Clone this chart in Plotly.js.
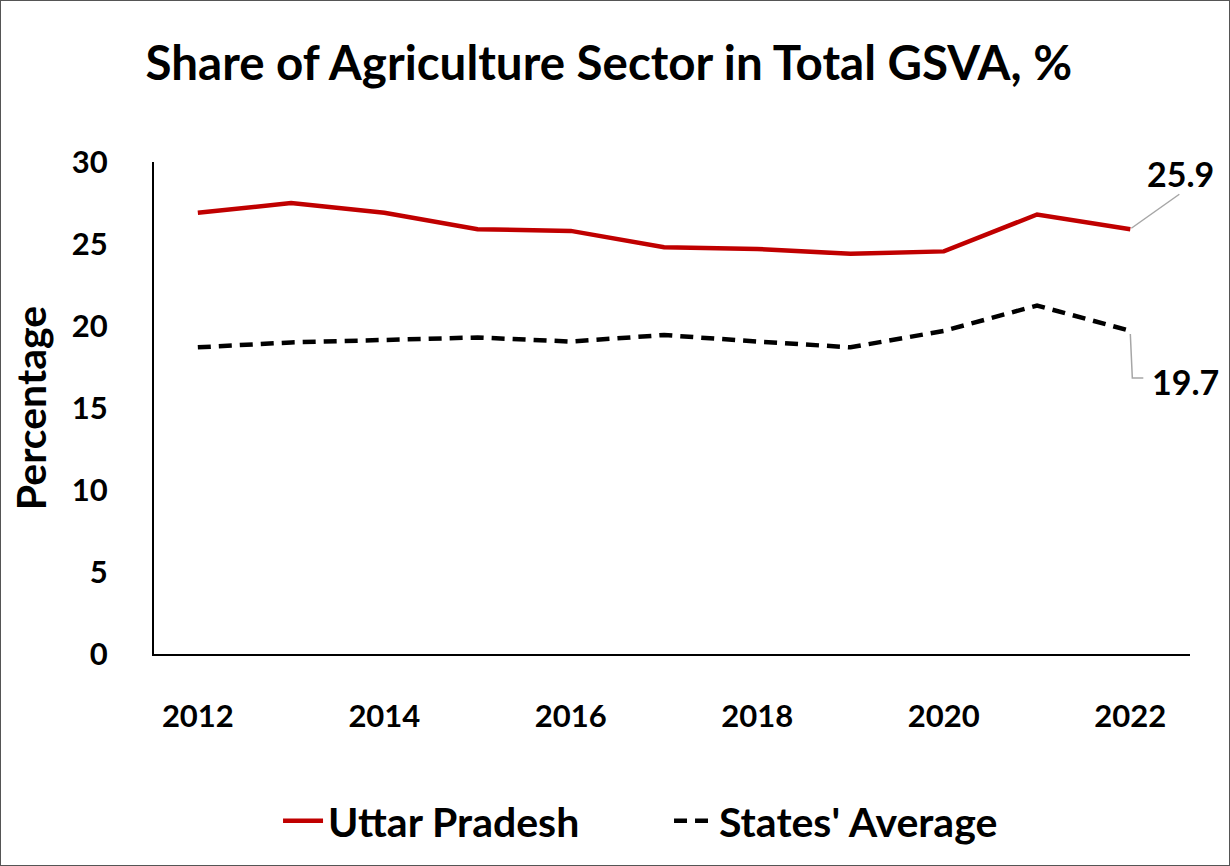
<!DOCTYPE html>
<html>
<head>
<meta charset="utf-8">
<script src="https://cdn.plot.ly/plotly-3.0.1.min.js"></script>
<style>
  html, body { margin: 0; padding: 0; background: #fff; }
  #chart { width: 1230px; height: 866px; box-sizing: border-box; border: 1px solid #555; }
</style>
</head>
<body>
<div id="chart"></div>
<script>
const years = [2012, 2013, 2014, 2015, 2016, 2017, 2018, 2019, 2020, 2021, 2022];
const uttarPradesh = [26.9, 27.5, 26.9, 25.9, 25.8, 24.8, 24.7, 24.4, 24.55, 26.8, 25.9];
const statesAverage = [18.7, 19.0, 19.15, 19.3, 19.05, 19.45, 19.05, 18.7, 19.7, 21.25, 19.7];
const xTicks = [2012, 2014, 2016, 2018, 2020, 2022];
const yTicks = [0, 5, 10, 15, 20, 25, 30];
const seriesNames = ["Uttar Pradesh", "States' Average"];

const FONT = "Lato, 'Open Sans', sans-serif";
const lastI = years.length - 1;

const traces = [
  {
    x: years, y: uttarPradesh, name: '<b>' + seriesNames[0] + '</b>', type: 'scatter', mode: 'lines',
    line: { color: '#C00000', width: 4.5 }
  },
  {
    x: years, y: statesAverage, name: '<b>' + seriesNames[1] + '</b>', type: 'scatter', mode: 'lines',
    line: { color: '#000000', width: 4.5, dash: '13px,8px' }
  }
];

const layout = {
  width: 1228, height: 864,
  margin: { l: 153, r: 39, t: 161, b: 211, pad: 0 },
  paper_bgcolor: '#fff', plot_bgcolor: '#fff',
  font: { family: FONT, color: '#000' },
  title: {
    text: '<b>Share of Agriculture Sector in Total GSVA, %</b>',
    font: { family: FONT, size: 47.5, color: '#000' },
    xref: 'container', x: 0.495, xanchor: 'center',
    yref: 'container', y: 1 - 62 / 864, yanchor: 'middle'
  },
  xaxis: {
    range: [2011.53, 2022.64],
    tickvals: xTicks, ticktext: xTicks.map(v => '<b>' + v + '</b>'),
    tickfont: { family: FONT, size: 31, color: '#000' },
    showline: true, linecolor: '#000', linewidth: 2,
    showgrid: false, zeroline: false,
    ticks: 'outside', ticklen: 34, tickcolor: 'rgba(0,0,0,0)'
  },
  yaxis: {
    range: [0, 30],
    tickvals: yTicks, ticktext: yTicks.map(v => '<b>' + v + '</b>'),
    tickfont: { family: FONT, size: 31, color: '#000' },
    showline: true, linecolor: '#000', linewidth: 2,
    showgrid: false, zeroline: false,
    ticks: 'outside', ticklen: 38, tickcolor: 'rgba(0,0,0,0)',
    title: { text: '<b>Percentage</b>', font: { family: FONT, size: 41, color: '#000' }, standoff: 12 }
  },
  showlegend: true,
  legend: {
    orientation: 'h',
    xref: 'container', x: 0.544, xanchor: 'center',
    yref: 'container', y: 1 - 820 / 864, yanchor: 'middle',
    font: { family: FONT, size: 41, color: '#000' },
    itemwidth: 40, tracegroupgap: 0,
    entrywidth: 336, entrywidthmode: 'pixels'
  },
  shapes: [
    {
      type: 'path', xref: 'x', yref: 'y',
      xsizemode: 'pixel', ysizemode: 'pixel',
      xanchor: years[lastI], yanchor: uttarPradesh[lastI],
      path: 'M1,1 L49,35',
      line: { color: '#A6A6A6', width: 1.5 }
    },
    {
      type: 'path', xref: 'x', yref: 'y',
      xsizemode: 'pixel', ysizemode: 'pixel',
      xanchor: years[lastI], yanchor: statesAverage[lastI],
      path: 'M0,-3 L2,-47 L13,-47',
      line: { color: '#A6A6A6', width: 1.5 }
    }
  ],
  annotations: [
    {
      x: years[lastI], y: uttarPradesh[lastI], xref: 'x', yref: 'y',
      text: '<b>' + uttarPradesh[lastI].toFixed(1) + '</b>', showarrow: false,
      xanchor: 'center', yanchor: 'middle', xshift: 50, yshift: 56,
      font: { family: FONT, size: 34, color: '#000' }
    },
    {
      x: years[lastI], y: statesAverage[lastI], xref: 'x', yref: 'y',
      text: '<b>' + statesAverage[lastI].toFixed(1) + '</b>', showarrow: false,
      xanchor: 'left', yanchor: 'middle', xshift: 20, yshift: -51,
      font: { family: FONT, size: 34, color: '#000' }
    }
  ]
};

Plotly.newPlot('chart', traces, layout, { displayModeBar: false, staticPlot: true });
</script>
</body>
</html>
